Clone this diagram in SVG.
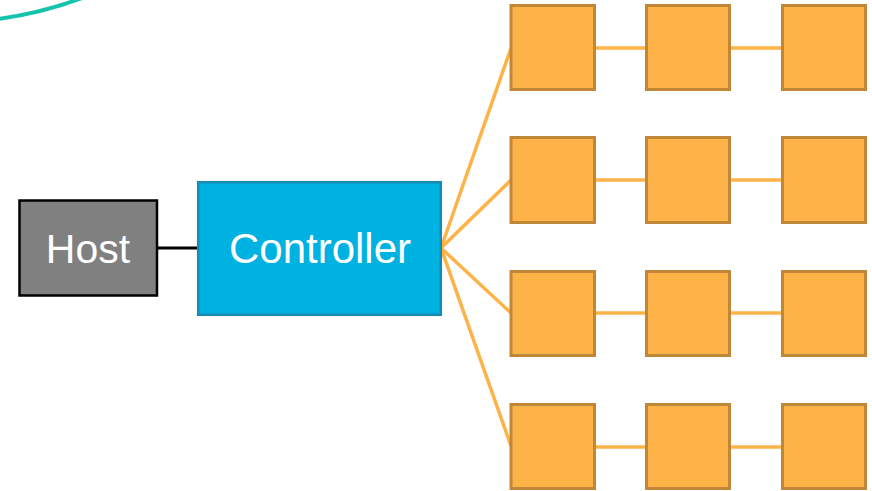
<svg xmlns="http://www.w3.org/2000/svg" width="872" height="491" viewBox="0 0 872 491">
  <style>
    .label { font-family: "Liberation Sans", Arial, sans-serif; font-size: 41px; fill: #ffffff; text-anchor: middle; }
    .cell { fill: #FDB347; stroke: #C08736; stroke-width: 3; }
    .link { stroke: #FDB347; stroke-width: 3.5; fill: none; }
  </style>
  <rect width="872" height="491" fill="#ffffff"/>

  <!-- partial ring in the corner -->
  <path d="M -2,19 Q 42,13 82,-2" fill="none" stroke="#14C3AE" stroke-width="4"/>

  <g id="connectors">
    <line x1="158" y1="248" x2="198" y2="248" stroke="#000000" stroke-width="3"/>
    <!-- fan-out from the controller -->
    <line class="link" x1="441" y1="248" x2="511" y2="48"/>
    <line class="link" x1="441" y1="248" x2="511" y2="180"/>
    <line class="link" x1="441" y1="248" x2="511" y2="313"/>
    <line class="link" x1="441" y1="248" x2="511" y2="446"/>
    <!-- chains along each row -->
    <line class="link" x1="595" y1="48" x2="646" y2="48"/>
    <line class="link" x1="730" y1="48" x2="782" y2="48"/>
    <line class="link" x1="595" y1="180" x2="646" y2="180"/>
    <line class="link" x1="730" y1="180" x2="782" y2="180"/>
    <line class="link" x1="595" y1="313" x2="646" y2="313"/>
    <line class="link" x1="730" y1="313" x2="782" y2="313"/>
    <line class="link" x1="595" y1="447" x2="646" y2="447"/>
    <line class="link" x1="730" y1="447" x2="782" y2="447"/>
  </g>

  <g id="host">
    <rect x="19.5" y="200.5" width="137.5" height="95" fill="#808080" stroke="#000000" stroke-width="2.5"/>
    <text class="label" x="88" y="263">Host</text>
  </g>

  <g id="controller">
    <rect x="198.2" y="182.2" width="242.6" height="132.6" fill="#00B2E1" stroke="#1A8AB0" stroke-width="2.5"/>
    <text class="label" x="320" y="263" style="font-size:42px">Controller</text>
  </g>

  <g id="cell-1-1"><rect class="cell" x="511" y="5.5" width="83.5" height="84"/></g>
  <g id="cell-1-2"><rect class="cell" x="646.5" y="5.5" width="83" height="84"/></g>
  <g id="cell-1-3"><rect class="cell" x="782.5" y="5.5" width="83" height="84"/></g>

  <g id="cell-2-1"><rect class="cell" x="511" y="137.5" width="83.5" height="85"/></g>
  <g id="cell-2-2"><rect class="cell" x="646.5" y="137.5" width="83" height="85"/></g>
  <g id="cell-2-3"><rect class="cell" x="782.5" y="137.5" width="83" height="85"/></g>

  <g id="cell-3-1"><rect class="cell" x="511" y="271.5" width="83.5" height="84"/></g>
  <g id="cell-3-2"><rect class="cell" x="646.5" y="271.5" width="83" height="84"/></g>
  <g id="cell-3-3"><rect class="cell" x="782.5" y="271.5" width="83" height="84"/></g>

  <g id="cell-4-1"><rect class="cell" x="511" y="404.5" width="83.5" height="84"/></g>
  <g id="cell-4-2"><rect class="cell" x="646.5" y="404.5" width="83" height="84"/></g>
  <g id="cell-4-3"><rect class="cell" x="782.5" y="404.5" width="83" height="84"/></g>
</svg>
